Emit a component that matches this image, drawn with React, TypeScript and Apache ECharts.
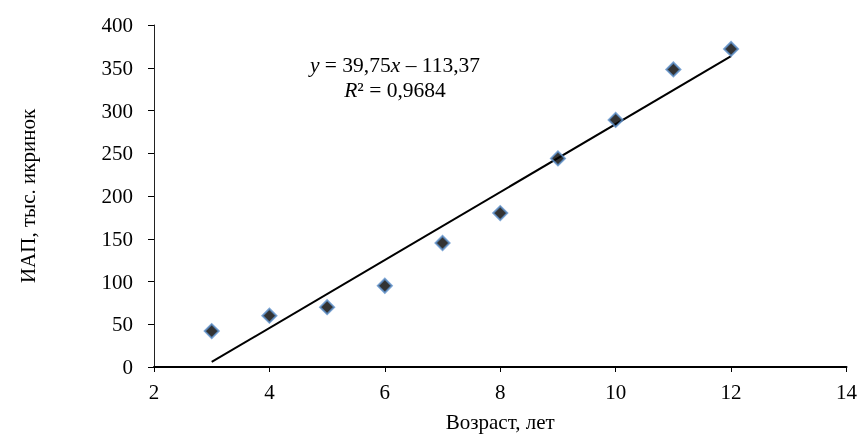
import React, { useEffect, useRef } from "react";
import * as echarts from "echarts";

const ages = [3, 4, 5, 6, 7, 8, 9, 10, 11, 12];
const values = [42, 60, 70, 95, 145, 180, 244, 289, 348, 372];
const slope = 39.75;
const intercept = -113.37;
const trendX = [3, 12];
const xTicks = [2, 4, 6, 8, 10, 12, 14];
const yTicks = [0, 50, 100, 150, 200, 250, 300, 350, 400];

export default function App() {
  const ref = useRef<HTMLDivElement>(null);
  useEffect(() => {
    if (!ref.current) return;
    const chart = echarts.init(ref.current, null, { renderer: "svg" });
    const font = "'Liberation Serif', 'Times New Roman', serif";
    const fs = 21;
    const eqFs = 21.5;
    const eqLh = 25;
    chart.setOption({
      animation: false,
      textStyle: { fontFamily: font },
      grid: { left: 154, right: 11, top: 25, bottom: 69 },
      xAxis: {
        type: "value",
        min: xTicks[0],
        max: xTicks[xTicks.length - 1],
        interval: 2,
        name: "Возраст, лет",
        nameLocation: "middle",
        nameGap: 44,
        nameTextStyle: { fontFamily: font, fontSize: fs, color: "#000" },
        axisLine: { show: true, lineStyle: { color: "#000", width: 2 } },
        axisTick: { show: true, length: 5, lineStyle: { color: "#000" } },
        axisLabel: { fontFamily: font, fontSize: fs, color: "#000", margin: 14 },
        splitLine: { show: false },
      },
      yAxis: {
        type: "value",
        min: yTicks[0],
        max: yTicks[yTicks.length - 1],
        interval: 50,
        name: "ИАП, тыс. икринок",
        nameLocation: "middle",
        nameGap: 116,
        nameRotate: 90,
        nameTextStyle: { fontFamily: font, fontSize: fs, color: "#000" },
        axisLine: { show: true, lineStyle: { color: "#222", width: 1 } },
        axisTick: { show: true, length: 6, lineStyle: { color: "#000" } },
        axisLabel: { fontFamily: font, fontSize: fs, color: "#000", margin: 21 },
        splitLine: { show: false },
      },
      series: [
        {
          type: "line",
          data: trendX.map((x) => [x, slope * x + intercept]),
          symbol: "none",
          lineStyle: { color: "#000", width: 2 },
          z: 1,
        },
        {
          type: "scatter",
          data: ages.map((a, i) => [a, values[i]]),
          symbol: "diamond",
          symbolSize: 14,
          itemStyle: { color: "#000", borderColor: "#5b8fc9", borderWidth: 2 },
          z: 2,
        },
      ],
      graphic: [
        {
          type: "text",
          x: 395,
          y: 52,
          style: {
            text: "{n|}{i|y}{n| = 39,75}{i|x}{n| – 113,37}\n{i|R}{n|² = 0,9684}",
            font: `${eqFs}px ${font}`,
            fill: "#000",
            align: "center",
            lineHeight: eqLh,
            rich: {
              i: { fontStyle: "italic", fontFamily: font, fontSize: eqFs, lineHeight: eqLh },
              n: { fontFamily: font, fontSize: eqFs, lineHeight: eqLh },
            },
          },
        },
      ],
    });
    return () => chart.dispose();
  }, []);
  return (
    <div
      ref={ref}
      style={{ position: "fixed", left: 0, top: 0, width: 860, height: 437 }}
    />
  );
}
